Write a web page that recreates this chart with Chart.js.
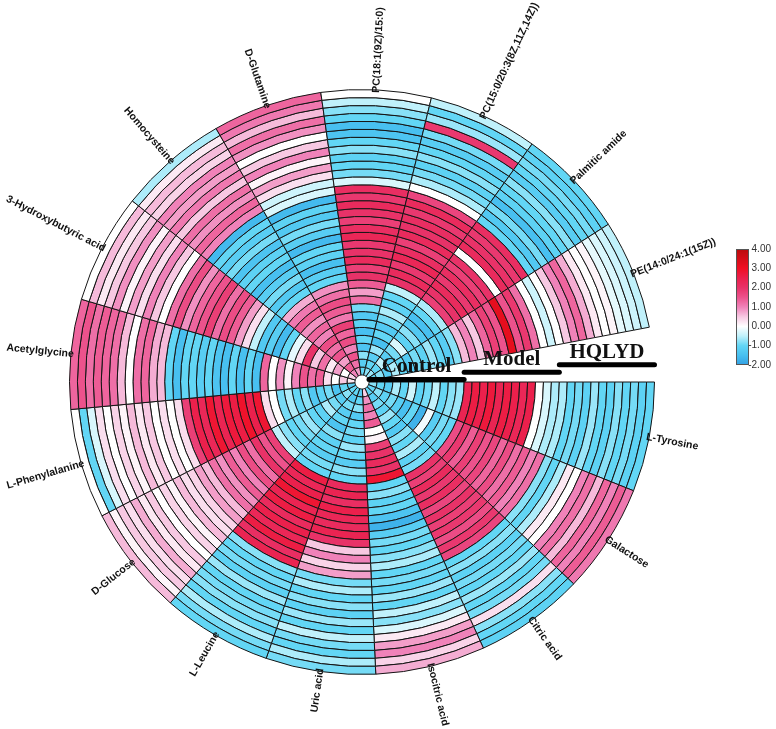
<!DOCTYPE html>
<html>
<head>
<meta charset="utf-8">
<script src="https://cdn.jsdelivr.net/npm/chart.js@4.4.1/dist/chart.umd.min.js"></script>
<style>
html, body { margin: 0; padding: 0; background: #fff; }
canvas { display: block; }
</style>
</head>
<body>
<canvas id="chart" width="776" height="729"></canvas>
<script>
// sectors, clockwise from 3 o'clock
const metabolites = [
    "L-Tyrosine", "Galactose", "Citric acid", "Isocitric acid", "Uric acid",
    "L-Leucine", "D-Glucose", "L-Phenylalanine", "Acetylglycine",
    "3-Hydroxybutyric acid", "Homocysteine", "D-Glutamine",
    "PC(18:1(9Z)/15:0)", "PC(15:0/20:3(8Z,11Z,14Z))", "Palmitic amide",
    "PE(14:0/24:1(15Z))"
];
const groups = ["Control", "Model", "HQLYD"];
const perGroup = 12;
const legendTicks = [4, 3, 2, 1, 0, -1, -2];

// rings from the centre outwards: Control 1-12, Model 1-12, HQLYD 1-12
const lTyrosine = [-0.8, -1.0, -1.2, -0.6, -1.0, -0.4, -1.1, -0.9, -0.5, -1.0, -0.8, -0.7,
    2.4, 2.6, 2.5, 2.7, 2.4, 2.6, 2.5, 2.3, 2.5, 0.0, -0.3, -0.6,
    -0.6, -1.0, -0.9, -1.1, -0.7, -1.0, -1.1, -0.8, -1.0, -0.9, -1.1, -1.0];
const galactose = [-1.0, -0.8, -1.1, -0.9, -1.2, -1.5, -1.0, -1.7, -0.1, -1.2, -0.9, -1.0,
    1.6, 1.9, 1.4, 1.8, 1.5, 1.7, 1.3, 1.6, 1.2, 1.4, 1.0, 1.2,
    -0.8, -1.0, -0.6, 0.2, 0.0, 1.0, 1.2, 0.6, 1.3, 1.0, 1.4, 1.1];
const citricAcid = [-1.0, -1.2, -0.9, -1.1, -0.7, -1.0, -1.3, -0.8, -1.0, -0.6, -1.1, -0.9,
    2.0, 1.8, 2.2, 1.9, 2.1, 1.7, 2.0, 1.8, 1.9, 1.6, 1.9, 1.7,
    -1.0, -0.8, -1.1, -0.9, -1.0, -0.7, -1.0, -0.9, 0.3, -0.8, -1.0, -1.1];
const isocitricAcid = [0.4, 0.9, 1.2, 1.0, 1.4, 0.0, 0.1, 1.8, 2.0, 2.2, 2.0, 2.8,
    -1.0, -0.8, -1.1, -1.0, -1.4, -1.7, -1.2, -0.9, -1.0, -0.8, -0.6, -1.0,
    -0.9, -1.0, -0.7, -1.0, -0.5, -0.8, -0.3, 0.2, 0.8, 1.0, 0.4, 0.7];
const uricAcid = [-1.2, -1.0, -0.8, -1.3, -1.0, -0.9, -1.1, -0.7, -1.0, -1.2, -0.8, -1.0,
    2.2, 2.4, 2.1, 2.5, 2.3, 2.2, 2.4, 2.0, 0.5, 1.0, 0.4, 0.8,
    -0.9, -0.6, -1.0, -0.8, -1.1, -0.7, -1.0, -0.5, -0.9, -1.0, -0.6, -0.9];
const lLeucine = [-1.0, -1.3, -0.9, -1.2, -1.0, -1.4, -0.8, -1.1, -1.0, -1.2, -0.9, -1.0,
    2.6, 2.3, 2.5, 2.8, 2.4, 2.6, 2.2, 2.5, 2.3, 2.6, 2.1, 2.4,
    -0.8, -1.0, -0.9, -1.1, -0.7, -1.0, -0.9, -0.8, -1.0, -0.6, -0.9, -1.0];
const dGlucose = [-1.0, -0.8, -1.2, -0.9, -0.6, -1.1, -1.0, -0.7, -0.9, -1.0, -0.8, -0.5,
    1.8, 1.5, 2.0, 1.2, 1.6, 1.0, 1.4, 0.9, 1.2, 0.6, 0.8, 0.4,
    0.3, 0.6, 0.1, 0.4, 0.0, 0.5, 0.2, 0.7, 0.3, 0.5, 0.1, 0.6];
const lPhenylalanine = [-1.2, -1.0, -1.4, -0.9, -1.1, -1.3, -0.8, -1.0, -0.6, -0.9, 0.0, 0.3,
    2.8, 2.5, 2.9, 2.6, 2.7, 2.4, 2.8, 2.3, 2.5, 1.8, 0.3, 0.0,
    0.3, 0.0, 0.5, 0.2, 0.6, 0.1, 0.4, 0.0, 0.3, -0.3, -1.0, 0.0];
const acetylglycine = [0.2, 0.5, 0.0, 0.3, 1.4, 1.2, 1.5, 1.0, 0.1, 0.9, 0.0, 1.3,
    -1.5, -1.0, -1.5, -1.0, -1.5, -1.4, -1.0, -1.2, -1.0, -1.0, -1.5, -1.0,
    0.6, 0.7, 1.3, 1.2, 0.0, 0.6, 1.2, 1.3, 1.4, 1.2, 1.5, 1.3];
const hydroxybutyricAcid = [0.4, 0.0, 0.8, 0.2, 1.2, 0.5, 2.0, 0.3, -0.2, -1.0, -1.6, -1.2,
    -1.3, -0.5, 0.3, 0.8, 1.4, 1.6, 1.2, 1.8, 1.5, 1.3, 0.9, 1.6,
    1.2, 0.0, 0.5, 1.0, 0.3, 0.8, 0.1, 0.9, 0.5, 0.2, 0.6, 0.0];
const homocysteine = [1.0, 1.4, 0.8, 1.5, 1.2, 1.6, 1.0, 1.3, 0.9, 1.4, 1.1, 0.7,
    -1.0, -1.3, -0.9, -1.2, -1.5, -1.0, -1.1, -1.4, -0.9, -1.2, -1.0, -1.6,
    1.0, 1.3, 0.9, 1.2, 0.5, 1.1, 0.8, 1.0, 0.4, 0.6, 0.2, -0.6];
const dGlutamine = [0.8, 1.2, 1.5, 1.0, 1.6, 1.3, 1.8, 1.1, 1.4, 1.6, 1.2, 0.9,
    -1.0, -1.2, -1.5, -1.1, -1.0, -1.6, -1.2, -0.9, -1.3, -1.1, -1.6, -0.3,
    -0.4, 0.3, 0.8, 0.1, 1.0, 0.5, 0.0, 0.9, 1.2, 0.6, 1.1, 1.3];
const pc181 = [-1.0, -1.2, -0.8, -1.4, -1.0, -1.5, -1.1, -1.3, -0.9, 1.2, 0.8, 1.4,
    2.0, 1.8, 2.2, 2.0, 1.9, 2.3, 2.1, 1.8, 2.0, 2.2, 1.9, 2.1,
    -0.3, -0.9, -1.0, -1.1, -0.8, -1.0, -1.4, -1.5, -1.0, -0.8, -0.5, 0.0];
const pc150 = [-0.8, -1.0, -1.2, -0.7, -1.5, -1.0, -1.3, -0.9, -0.6, -1.1, -1.0, -0.5,
    2.0, 2.2, 1.9, 2.3, 2.1, 1.8, 2.2, 2.0, 2.1, 1.9, 2.2, 1.7,
    0.0, -0.6, -0.9, -1.1, -0.8, -1.0, -1.2, -0.9, 1.9, -0.7, -1.0, -0.5];
const palmiticAmide = [-0.7, -1.0, -0.5, -1.2, -0.9, -0.3, -1.1, -0.8, -1.3, -1.5, -1.0, -0.6,
    1.8, 2.0, 2.2, 1.9, 2.1, 1.8, 2.0, 0.0, 2.2, 2.0, 1.9, 2.1,
    -1.0, -1.3, -0.9, -1.5, -1.1, -1.0, -0.8, -1.2, -1.0, -0.9, -1.1, -1.0];
const pe140 = [-1.0, -0.8, -1.2, -0.6, -1.0, -1.3, -0.9, -1.1, -0.7, -1.0, -1.2, -0.8,
    0.6, 1.0, 0.5, 1.3, 1.8, 1.5, 3.2, 1.5, 1.9, 1.2, 0.0, -0.4,
    0.0, 0.5, 1.0, 1.3, 0.7, 0.2, 0.0, 0.1, -0.2, -0.3, -0.4, -0.5];

const values = [lTyrosine, galactose, citricAcid, isocitricAcid, uricAcid, lLeucine,
    dGlucose, lPhenylalanine, acetylglycine, hydroxybutyricAcid, homocysteine,
    dGlutamine, pc181, pc150, palmiticAmide, pe140];

// colour scale -2 .. 4
const stops = [
    [-2, [50, 160, 228]],
    [-1.5, [72, 192, 240]],
    [-1, [98, 214, 245]],
    [-0.5, [192, 241, 251]],
    [0, [255, 255, 255]],
    [0.5, [247, 200, 226]],
    [1, [240, 130, 185]],
    [1.5, [236, 82, 140]],
    [2, [232, 50, 104]],
    [2.5, [235, 32, 76]],
    [3, [240, 15, 35]],
    [4, [185, 12, 12]]
];

function heatColor(v) {
    if (v <= stops[0][0]) return "rgb(" + stops[0][1].join(",") + ")";
    for (let i = 1; i < stops.length; i++) {
        if (v <= stops[i][0]) {
            const a = stops[i - 1], b = stops[i];
            const t = (v - a[0]) / (b[0] - a[0]);
            const c = a[1].map((x, k) => Math.round(x + (b[1][k] - x) * t));
            return "rgb(" + c.join(",") + ")";
        }
    }
    return "rgb(" + stops[stops.length - 1][1].join(",") + ")";
}

const ringCount = groups.length * perGroup;
const datasets = [];
// doughnut draws the first dataset outermost
for (let ring = ringCount - 1; ring >= 0; ring--) {
    datasets.push({
        data: metabolites.map(() => 1),
        backgroundColor: values.map(v => heatColor(v[ring])),
        borderColor: "#151515",
        borderWidth: 1
    });
}

const decorations = {
    id: "decorations",
    afterDraw(chart) {
        const ctx = chart.ctx;
        const outer = chart.getDatasetMeta(0).data;
        const inner = chart.getDatasetMeta(ringCount - 1).data[0];
        const cx = inner.x, cy = inner.y;
        const r0 = inner.innerRadius;
        const rw = (outer[0].outerRadius - r0) / ringCount;

        // sector labels
        ctx.save();
        ctx.font = "bold 10.5px 'Liberation Sans', Arial, sans-serif";
        ctx.fillStyle = "#111";
        ctx.textBaseline = "middle";
        outer.forEach((arc, i) => {
            const mid = (arc.startAngle + arc.endAngle) / 2;
            const r = arc.outerRadius - 3;
            ctx.save();
            ctx.translate(cx + r * Math.cos(mid), cy + r * Math.sin(mid));
            if (Math.cos(mid) >= 0) {
                ctx.rotate(mid);
                ctx.textAlign = "left";
            } else {
                ctx.rotate(mid + Math.PI);
                ctx.textAlign = "right";
            }
            ctx.fillText(metabolites[i], 0, 0);
            ctx.restore();
        });
        ctx.restore();

        // group bars and names in the gap
        ctx.save();
        ctx.strokeStyle = "#000";
        ctx.lineWidth = 5;
        ctx.lineCap = "round";
        ctx.fillStyle = "#111";
        ctx.font = "bold 21px 'Liberation Serif', 'Times New Roman', serif";
        ctx.textAlign = "center";
        ctx.textBaseline = "alphabetic";
        groups.forEach((g, i) => {
            const a = r0 + i * perGroup * rw;
            const b = r0 + (i + 1) * perGroup * rw;
            const y = cy - 2 - a * 0.077;
            ctx.beginPath();
            ctx.moveTo(cx + a, y);
            ctx.lineTo(cx + b, y);
            ctx.stroke();
            ctx.fillText(g, cx + (a + b) / 2, y - 7);
        });
        ctx.restore();

        // colour legend
        const lx = 736, lw = 13, top = 249, bottom = 365;
        const vMax = legendTicks[0], vMin = legendTicks[legendTicks.length - 1];
        ctx.save();
        for (let y = top; y < bottom; y++) {
            const v = vMax - (y - top + 0.5) / (bottom - top) * (vMax - vMin);
            ctx.fillStyle = heatColor(v);
            ctx.fillRect(lx, y, lw, 1);
        }
        ctx.strokeStyle = "#555";
        ctx.lineWidth = 1;
        ctx.strokeRect(lx + 0.5, top + 0.5, lw - 1, bottom - top - 1);
        ctx.fillStyle = "#333";
        ctx.font = "10px 'Liberation Sans', Arial, sans-serif";
        ctx.textAlign = "right";
        ctx.textBaseline = "middle";
        legendTicks.forEach(t => {
            const y = top + (vMax - t) / (vMax - vMin) * (bottom - top);
            ctx.fillText(t.toFixed(2), 771, y);
        });
        ctx.restore();
    }
};

const chart = new Chart("chart", {
    type: "doughnut",
    data: {
        labels: metabolites,
        datasets: datasets
    },
    options: {
        responsive: false,
        animation: false,
        events: [],
        rotation: 90,
        circumference: 349.2,
        cutout: 7,
        layout: {
            padding: { left: 0, right: 52, top: 89, bottom: 54 }
        },
        plugins: {
            legend: { display: false },
            tooltip: { enabled: false }
        }
    },
    plugins: [decorations]
});
</script>
</body>
</html>
